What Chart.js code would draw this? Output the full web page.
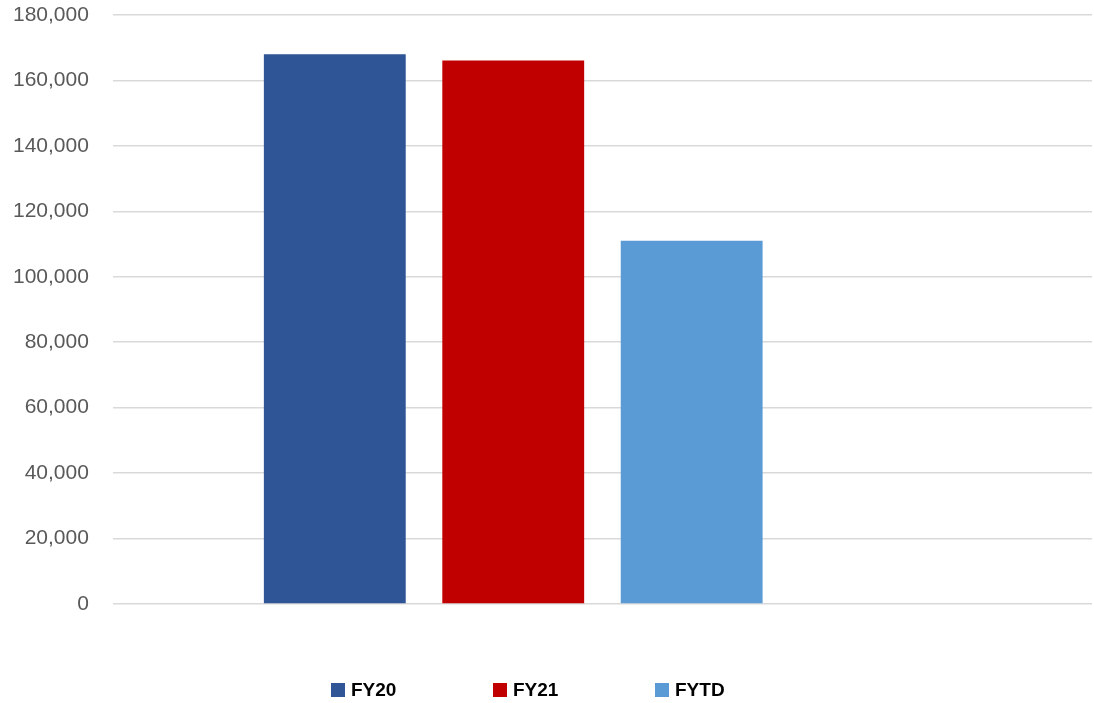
<!DOCTYPE html>
<html>
<head>
<meta charset="utf-8">
<script src="https://cdn.jsdelivr.net/npm/chart.js@4"></script>
<style>
  html, body { margin: 0; padding: 0; background: #fff; }
  #wrap { width: 1094px; height: 703px; }
</style>
</head>
<body>
<div id="wrap"><canvas id="grafico"></canvas></div>
<script>
const categorias = [""];
const series = ["FY20", "FY21", "FYTD"];
const valores = [168000, 166100, 111000];
const cores = ["#2f5597", "#c00000", "#5b9bd5"];
const yTicks = [0, 20000, 40000, 60000, 80000, 100000, 120000, 140000, 160000, 180000];

// a 4th empty series keeps the group off-centre like the original
const datasets = series.map((nome, i) => ({
  label: nome,
  data: [valores[i]],
  backgroundColor: cores[i],
  categoryPercentage: 0.729,
  barPercentage: 0.795
}));
datasets.push({ label: "", data: [null], backgroundColor: "#fff", categoryPercentage: 0.729, barPercentage: 0.795 });

// legenda desenhada à mão para ter o espaçamento igual entre itens
const legendaFixa = {
  id: "legendaFixa",
  afterDraw(chart) {
    const ctx = chart.ctx;
    const passo = 162;
    const x0 = chart.width / 2 - 216;
    const y = 690;
    ctx.save();
    ctx.font = "bold 19px 'Liberation Sans'";
    ctx.textBaseline = "middle";
    ctx.textAlign = "left";
    series.forEach((nome, i) => {
      const x = x0 + i * passo;
      ctx.fillStyle = cores[i];
      ctx.fillRect(x, y - 7, 14, 14);
      ctx.fillStyle = "#000";
      ctx.fillText(nome, x + 20, y + 1);
    });
    ctx.restore();
  }
};

new Chart(document.getElementById("grafico"), {
  type: "bar",
  data: { labels: categorias, datasets: datasets },
  options: {
    responsive: true,
    maintainAspectRatio: false,
    animation: false,
    layout: { padding: { top: 15, right: 2, bottom: 99, left: 13 } },
    plugins: {
      tooltip: { enabled: false },
      legend: { display: false }
    },
    scales: {
      x: { display: false },
      y: {
        min: 0,
        max: 180000,
        afterBuildTicks: (axis) => { axis.ticks = yTicks.map(v => ({ value: v })); },
        grid: { color: "#d9d9d9", lineWidth: 1.5, drawTicks: true, tickLength: 24, tickColor: "rgba(0,0,0,0)" },
        border: { display: false },
        ticks: {
          padding: 0,
          color: "#595959",
          font: { family: "Liberation Sans", size: 21 },
          callback: (v) => v.toLocaleString("en-US")
        }
      }
    }
  },
  plugins: [legendaFixa]
});
</script>
</body>
</html>
